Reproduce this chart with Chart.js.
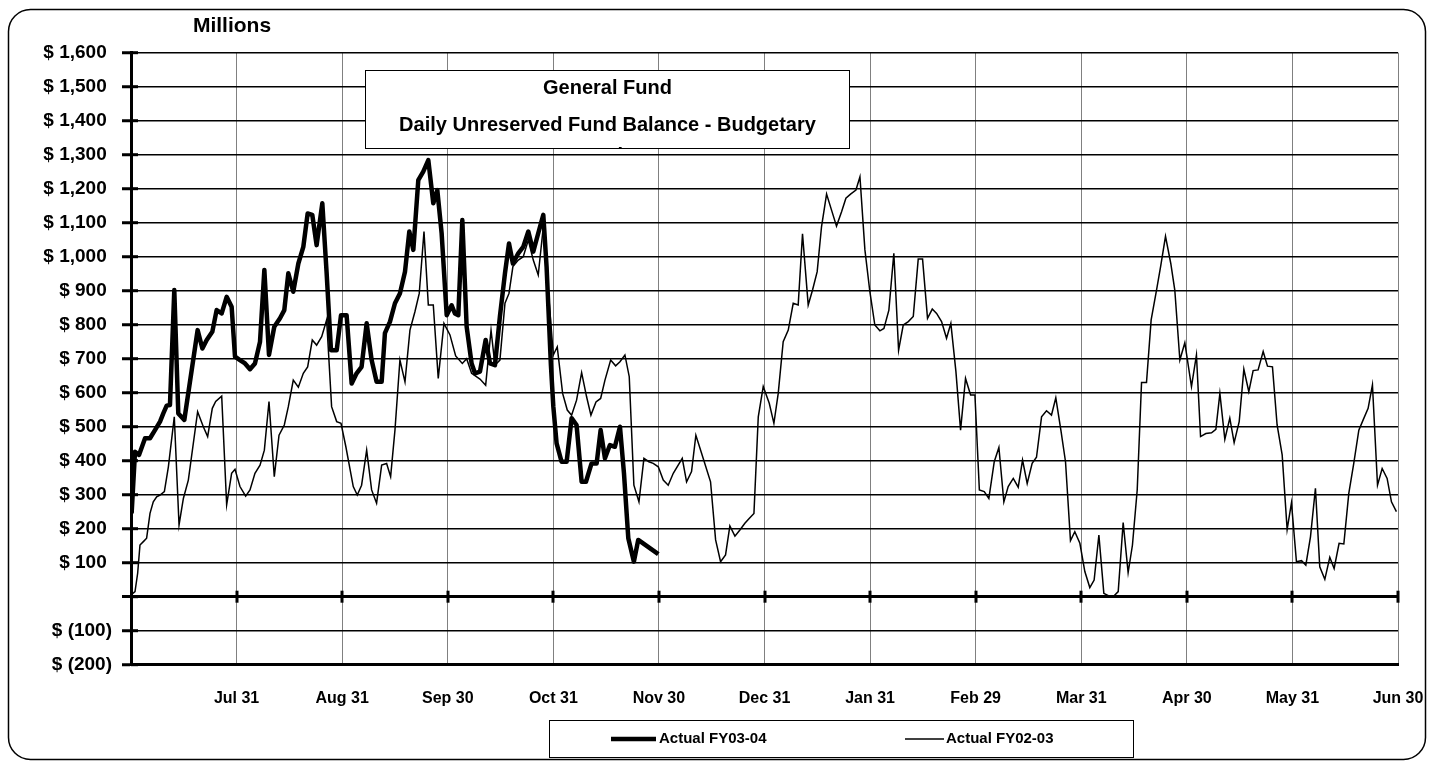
<!DOCTYPE html>
<html><head><meta charset="utf-8">
<script src="https://cdn.jsdelivr.net/npm/chart.js@4.4.0/dist/chart.umd.min.js"></script>
<style>html,body{margin:0;padding:0;background:#fff;overflow:hidden}#wrap{width:1434px;height:767px;position:relative}</style>
</head><body><div id="wrap"><canvas id="c" width="1434" height="767"></canvas></div>
<script>
// ---- data (x = months elapsed in the fiscal year, y = $ millions) ----
const monthLabels = ['', 'Jul 31', 'Aug 31', 'Sep 30', 'Oct 31', 'Nov 30', 'Dec 31', 'Jan 31', 'Feb 29', 'Mar 31', 'Apr 30', 'May 31', 'Jun 30'];
const titleLines = ['General Fund', 'Daily Unreserved Fund Balance - Budgetary', 'Basis'];
const seriesNames = ['Actual FY03-04', 'Actual FY02-03'];

const fy0304Months = [0.006,0.038,0.076,0.133,0.180,0.227,0.275,0.306,0.338,0.369,0.410,0.448,0.505,0.631,0.676,0.717,0.770,0.811,0.859,0.906,0.953,0.985,1.032,1.080,1.127,1.174,1.222,1.263,1.307,1.357,1.411,1.452,1.490,1.537,1.585,1.632,1.673,1.717,1.758,1.812,1.853,1.894,1.948,1.989,2.042,2.090,2.137,2.184,2.232,2.279,2.326,2.374,2.405,2.453,2.500,2.547,2.595,2.636,2.674,2.721,2.768,2.816,2.863,2.901,2.942,2.990,3.037,3.068,3.100,3.138,3.179,3.226,3.258,3.305,3.359,3.400,3.447,3.494,3.542,3.580,3.617,3.668,3.715,3.763,3.810,3.857,3.905,3.936,3.977,4.000,4.031,4.078,4.126,4.173,4.220,4.268,4.309,4.362,4.410,4.448,4.489,4.536,4.583,4.631,4.669,4.710,4.763,4.804,4.994];
const fy0304Values = [245,426,417,466,466,490,515,539,562,564,902,539,520,784,730,755,779,843,833,882,853,706,696,686,669,686,750,961,711,794,819,843,951,897,980,1029,1127,1123,1034,1157,951,725,725,828,828,627,657,676,804,696,632,632,775,809,863,892,956,1074,1020,1225,1250,1284,1157,1196,1069,828,857,833,828,1108,794,686,657,662,755,686,681,824,951,1039,980,1010,1029,1074,1015,1069,1123,971,681,559,451,397,397,525,505,338,338,392,392,490,407,446,441,500,363,172,103,167,125];

const fy0203Months = [0.000,0.038,0.063,0.085,0.117,0.148,0.180,0.211,0.243,0.275,0.316,0.354,0.410,0.455,0.496,0.543,0.631,0.685,0.726,0.770,0.802,0.859,0.906,0.953,0.985,1.032,1.086,1.127,1.174,1.222,1.263,1.307,1.357,1.402,1.452,1.490,1.537,1.585,1.632,1.673,1.717,1.758,1.806,1.853,1.900,1.948,1.989,2.035,2.105,2.143,2.184,2.232,2.279,2.326,2.374,2.421,2.459,2.500,2.547,2.595,2.642,2.689,2.730,2.775,2.816,2.863,2.910,2.964,3.021,3.075,3.138,3.179,3.226,3.305,3.359,3.410,3.447,3.494,3.542,3.580,3.617,3.668,3.715,3.763,3.810,3.857,3.905,4.000,4.037,4.088,4.132,4.173,4.220,4.268,4.315,4.356,4.404,4.448,4.489,4.543,4.590,4.631,4.678,4.719,4.763,4.811,4.858,4.905,4.946,4.994,5.041,5.088,5.136,5.221,5.262,5.309,5.350,5.404,5.489,5.537,5.584,5.631,5.672,5.720,5.767,5.814,5.855,5.900,5.941,5.988,6.045,6.089,6.130,6.177,6.225,6.272,6.319,6.360,6.414,6.455,6.499,6.540,6.588,6.635,6.682,6.730,6.771,6.815,6.866,6.904,6.951,6.998,7.045,7.093,7.131,7.178,7.225,7.270,7.314,7.362,7.409,7.456,7.497,7.544,7.589,7.630,7.677,7.724,7.765,7.813,7.857,7.904,7.952,7.993,8.035,8.081,8.125,8.176,8.220,8.267,8.308,8.356,8.403,8.444,8.488,8.535,8.576,8.624,8.671,8.718,8.759,8.807,8.851,8.898,8.939,8.987,9.034,9.081,9.122,9.167,9.214,9.261,9.309,9.350,9.397,9.444,9.485,9.530,9.571,9.618,9.662,9.713,9.754,9.798,9.848,9.886,9.934,9.981,10.044,10.091,10.130,10.180,10.234,10.275,10.313,10.360,10.407,10.448,10.496,10.540,10.587,10.628,10.675,10.723,10.764,10.811,10.855,10.903,10.950,10.991,11.038,11.086,11.127,11.171,11.218,11.259,11.307,11.354,11.395,11.442,11.487,11.534,11.581,11.629,11.670,11.717,11.758,11.806,11.850,11.897,11.938,11.985];
const fy0203Values = [5,15,69,152,162,172,245,279,294,299,309,382,529,211,289,343,544,500,471,554,574,590,270,363,375,324,296,314,363,387,431,574,353,475,505,559,637,616,657,676,755,740,765,814,559,515,510,441,324,299,328,431,314,275,387,392,353,490,696,632,784,838,892,1074,858,858,642,804,770,708,686,700,657,640,622,784,681,696,863,892,971,990,1000,1049,990,946,1088,711,735,598,549,534,578,659,588,534,573,583,637,696,679,691,711,647,328,279,407,397,392,382,343,328,363,407,338,368,475,422,338,167,103,123,208,178,196,216,230,245,529,618,569,510,598,750,784,863,858,1067,858,902,956,1088,1184,1137,1090,1132,1172,1184,1196,1235,1020,897,799,782,789,843,1010,725,799,809,824,993,993,819,846,833,809,760,804,662,490,642,593,593,314,309,289,397,439,279,324,348,322,402,333,392,410,529,547,534,585,490,397,165,191,157,74,27,49,181,10,2,2,15,218,71,152,314,630,630,814,902,975,1060,980,902,696,747,618,711,471,480,482,492,598,463,525,453,515,669,603,665,667,721,678,676,505,417,198,276,103,106,93,176,319,88,51,116,83,157,155,304,392,490,520,554,623,328,377,348,279,250];

const yMin = -200, yMax = 1600, yStep = 100;

// ---- helpers ----
const FONT = '"Liberation Sans", Arial, Helvetica, sans-serif';
const toPoints = (xs, ys) => xs.map((x, i) => ({x: x, y: ys[i]}));
const fmtMoney = v => v === 0 ? '' : (v < 0 ? '$ (' + (-v).toLocaleString('en-US') + ')' : '$ ' + v.toLocaleString('en-US') + ' ');

const decorPlugin = {
  id: 'decor',
  beforeDraw(chart) {
    const c = chart.ctx;
    c.save();
    c.fillStyle = '#fff';
    c.fillRect(0, 0, chart.width, chart.height);
    c.restore();
  },
  beforeDatasetsDraw(chart) {
    const c = chart.ctx, xs = chart.scales.x, ys = chart.scales.y;
    const y0 = ys.getPixelForValue(0);
    c.save();
    c.strokeStyle = '#000';
    c.lineWidth = 3;
    for (let i = 1; i <= 12; i++) {
      const x = Math.round(xs.getPixelForValue(i));
      c.beginPath(); c.moveTo(x, y0 - 6); c.lineTo(x, y0 + 6); c.stroke();
    }
    const ax = chart.chartArea.left;
    for (let v = yMin; v <= yMax; v += yStep) {
      const y = ys.getPixelForValue(v);
      c.beginPath(); c.moveTo(ax, y); c.lineTo(ax + 7, y); c.stroke();
    }
    c.restore();
  },
  afterDraw(chart) {
    const c = chart.ctx;
    c.save();
    c.strokeStyle = '#000'; c.lineWidth = 1.5;
    c.beginPath(); c.roundRect(8.5, 9.5, 1417, 750, 22); c.stroke();
    c.fillStyle = '#000';
    c.font = 'bold 21px ' + FONT;
    c.textAlign = 'center'; c.textBaseline = 'middle';
    c.fillText('Millions', 232, 26);
    const bx = 365.5, by = 70.5, bw = 484, bh = 78;
    c.fillStyle = '#fff'; c.fillRect(bx, by, bw, bh);
    c.save();
    c.beginPath(); c.rect(bx, by, bw, bh); c.clip();
    c.fillStyle = '#000';
    c.font = 'bold 20px ' + FONT;
    c.textBaseline = 'alphabetic';
    c.fillText(titleLines[0], bx + bw / 2, 94);
    c.fillText(titleLines[1], bx + bw / 2, 131);
    c.fillText(titleLines[2], bx + bw / 2, 162);
    c.restore();
    c.strokeStyle = '#000'; c.lineWidth = 1;
    c.strokeRect(bx, by, bw, bh);
    const lx = 549.5, ly = 720.5, lw = 584, lh = 37;
    c.fillStyle = '#fff'; c.fillRect(lx, ly, lw, lh);
    c.strokeRect(lx, ly, lw, lh);
    const items = [
      {x0: 611, x1: 656, tx: 659},
      {x0: 905, x1: 944, tx: 946}
    ];
    c.font = 'bold 15px ' + FONT;
    c.textAlign = 'left'; c.textBaseline = 'middle';
    chart.data.datasets.forEach((ds, i) => {
      const it = items[i];
      c.strokeStyle = ds.borderColor; c.lineWidth = ds.borderWidth;
      c.beginPath(); c.moveTo(it.x0, 739); c.lineTo(it.x1, 739); c.stroke();
      c.fillStyle = '#000';
      c.fillText(ds.label, it.tx, 739);
    });
    c.restore();
  }
};

new Chart(document.getElementById('c'), {
  type: 'line',
  data: {
    datasets: [
      {label: seriesNames[0], data: toPoints(fy0304Months, fy0304Values), borderColor: '#000', borderWidth: 4.5, pointRadius: 0, tension: 0, fill: false, borderJoinStyle: 'round'},
      {label: seriesNames[1], data: toPoints(fy0203Months, fy0203Values), borderColor: '#000', borderWidth: 1.5, pointRadius: 0, tension: 0, fill: false}
    ]
  },
  options: {
    responsive: false,
    devicePixelRatio: 1,
    animation: false,
    layout: {padding: {top: 52.7, right: 36, left: 0, bottom: 0}},
    plugins: {legend: {display: false}, tooltip: {enabled: false}, title: {display: false}},
    scales: {
      x: {
        type: 'linear', min: 0, max: 12,
        afterFit: s => { s.height = 102.3; },
        ticks: {stepSize: 1, autoSkip: false, maxRotation: 0, padding: 0, color: '#000',
                font: {family: FONT, size: 16, weight: 'bold'},
                callback: v => monthLabels[v] || ''},
        grid: {color: '#808080', lineWidth: 1, drawTicks: true, tickLength: 24, tickColor: 'rgba(0,0,0,0)'},
        border: {display: true, color: '#000', width: 3}
      },
      y: {
        min: yMin, max: yMax,
        afterFit: s => { s.width = 131; },
        ticks: {stepSize: yStep, padding: 10, color: '#000',
                font: {family: FONT, size: 19, weight: 'bold'},
                callback: v => fmtMoney(v)},
        grid: {color: '#000', lineWidth: ctx => (ctx.tick && ctx.tick.value === 0) ? 3 : 1.5,
               tickLength: 9, tickWidth: 3, tickColor: '#000'},
        border: {display: true, color: '#000', width: 3}
      }
    }
  },
  plugins: [decorPlugin]
});
</script>
</body></html>
